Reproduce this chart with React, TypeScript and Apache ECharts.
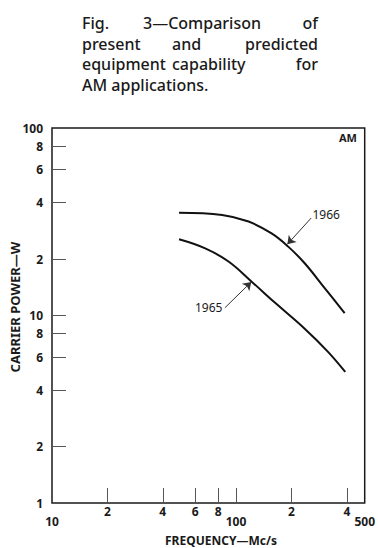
import React, { useEffect, useRef } from "react";
import * as echarts from "echarts";

// ---- data (real units: frequency in Mc/s, carrier power in W) ----
const curve1966: [number, number][] = [
  [49, 35.3], [84, 34.4], [117, 31.7], [156, 27.4], [192, 23.3], [236, 19.0], [303, 14.0], [389, 10.3],
];
const curve1965: [number, number][] = [
  [49, 25.5], [68, 22.8], [91, 19.4], [122, 15.1], [166, 11.5], [236, 8.5], [316, 6.4], [392, 5.0],
];

const xRange = [10, 500];
const yRange = [1, 100];
const xTickVals = [20, 40, 60, 80, 100, 200, 400];
const xLabelVals = [10, 20, 40, 60, 80, 100, 200, 400, 500];
const xLabelText = ["10", "2", "4", "6", "8", "100", "2", "4", "500"];
const xLoweredLabels = [10, 100, 500];
const yTickVals = [2, 4, 6, 8, 10, 20, 40, 60, 80];
const yLabelVals = [1, 2, 4, 6, 8, 10, 20, 40, 60, 80, 100];
const yLabelText = ["1", "2", "4", "6", "8", "10", "2", "4", "6", "8", "100"];

// annotation anchors (data units)
const note1966 = { text: "1966", at: [309, 34.4], from: [256, 33.1], to: [190, 24.0] };
const note1965 = { text: "1965", at: [71, 11.0], from: [87, 11.0], to: [121, 15.1] };

const titleLines = [
  ["Fig.", "3\u2014Comparison", "of"],
  ["present", "and", "predicted"],
  ["equipment", "capability", "for"],
  ["AM applications."],
];

const FONT = "'Noto Sans', 'DejaVu Sans', sans-serif";
const INK = "#1a1a1a";

function lookup(vals: number[], v: number): number {
  for (let i = 0; i < vals.length; i++) {
    if (Math.abs(Math.log10(vals[i]) - v) < 1e-6) return i;
  }
  return -1;
}

export default function App() {
  const ref = useRef<HTMLDivElement>(null);

  useEffect(() => {
    document.body.style.margin = "0";
    const chart = echarts.init(ref.current!, null, { renderer: "svg" });

    const titleGraphics: any[] = [];
    const wordX = [
      [82, 143, 318],
      [82, 172, 318],
      [82, 172, 318],
      [82],
    ];
    const lineY = [23, 44, 64, 85];
    titleLines.forEach((words, li) => {
      words.forEach((w, wi) => {
        const isLastRight = words.length === 3 && wi === 2;
        titleGraphics.push({
          type: "text",
          x: wordX[li][wi],
          y: lineY[li],
          style: {
            text: w,
            font: `500 16px ${FONT}`,
            fill: INK,
            align: isLastRight ? "right" : "left",
            verticalAlign: "middle",
          },
        });
      });
    });

    const arrowLine = (n: typeof note1966) => ({
      silent: true,
      symbol: ["none", "arrow"],
      symbolSize: 8,
      label: { show: false },
      lineStyle: { color: "#333", width: 1, type: "solid" },
      emphasis: { disabled: true },
      data: [[{ coord: n.from }, { coord: n.to }]],
    });
    const notePoint = (n: typeof note1966) => ({
      silent: true,
      symbol: "circle",
      symbolSize: 1,
      itemStyle: { color: "rgba(0,0,0,0)" },
      data: [
        {
          coord: n.at,
          label: {
            show: true,
            position: "inside",
            formatter: n.text,
            color: INK,
            fontSize: 12,
            fontFamily: FONT,
          },
        },
      ],
    });

    chart.setOption({
      animation: false,
      backgroundColor: "#ffffff",
      grid: {
        left: 52,
        right: 11,
        top: 128,
        bottom: 45,
        show: true,
        borderColor: INK,
        borderWidth: 1.5,
        backgroundColor: "transparent",
      },
      xAxis: [
        {
          type: "log",
          logBase: 10,
          min: xRange[0],
          max: xRange[1],
          axisLine: { show: false },
          axisTick: { show: false },
          axisLabel: { show: false },
          splitLine: { show: false },
        },
        {
          type: "value",
          position: "bottom",
          min: Math.log10(xRange[0]),
          max: Math.log10(xRange[1]),
          axisLine: { show: false },
          splitLine: { show: false },
          axisTick: {
            show: true,
            inside: true,
            length: 15,
            lineStyle: { color: "#555", width: 1 },
            customValues: xTickVals.map((v) => Math.log10(v)),
          },
          axisLabel: {
            show: true,
            margin: 2,
            customValues: xLabelVals.map((v) => Math.log10(v)),
            color: INK,
            fontSize: 12,
            fontWeight: "bold",
            fontFamily: FONT,
            formatter: (v: number) => {
              const i = lookup(xLabelVals, v);
              if (i < 0) return "";
              return xLoweredLabels.includes(xLabelVals[i])
                ? `{lo|${xLabelText[i]}}`
                : xLabelText[i];
            },
            rich: {
              lo: {
                padding: [10, 0, 0, 0],
                fontSize: 12,
                fontWeight: "bold",
                fontFamily: FONT,
                color: INK,
              },
            },
          },
        },
      ],
      yAxis: [
        {
          type: "log",
          logBase: 10,
          min: yRange[0],
          max: yRange[1],
          axisLine: { show: false },
          axisTick: { show: false },
          axisLabel: { show: false },
          splitLine: { show: false },
        },
        {
          type: "value",
          position: "left",
          min: Math.log10(yRange[0]),
          max: Math.log10(yRange[1]),
          axisLine: { show: false },
          splitLine: { show: false },
          axisTick: {
            show: true,
            inside: true,
            length: 14,
            lineStyle: { color: "#555", width: 1 },
            customValues: yTickVals.map((v) => Math.log10(v)),
          },
          axisLabel: {
            show: true,
            margin: 9,
            customValues: yLabelVals.map((v) => Math.log10(v)),
            color: INK,
            fontSize: 12,
            fontWeight: "bold",
            fontFamily: FONT,
            formatter: (v: number) => {
              const i = lookup(yLabelVals, v);
              return i < 0 ? "" : yLabelText[i];
            },
          },
        },
      ],
      series: [
        {
          name: "1966",
          type: "line",
          xAxisIndex: 0,
          yAxisIndex: 0,
          data: curve1966,
          smooth: 0.4,
          showSymbol: false,
          symbol: "none",
          lineStyle: { color: "#111", width: 2 },
          silent: true,
          markLine: arrowLine(note1966),
          markPoint: notePoint(note1966),
        },
        {
          name: "1965",
          type: "line",
          xAxisIndex: 0,
          yAxisIndex: 0,
          data: curve1965,
          smooth: 0.4,
          showSymbol: false,
          symbol: "none",
          lineStyle: { color: "#111", width: 2 },
          silent: true,
          markLine: arrowLine(note1965),
          markPoint: notePoint(note1965),
        },
      ],
      graphic: [
        ...titleGraphics,
        {
          type: "text",
          x: 348,
          y: 137,
          style: {
            text: "AM",
            font: `bold 11px ${FONT}`,
            fill: INK,
            align: "center",
            verticalAlign: "middle",
          },
        },
        {
          type: "text",
          x: 221,
          y: 540,
          style: {
            text: "FREQUENCY\u2014Mc/s",
            font: `bold 12px ${FONT}`,
            fill: INK,
            align: "center",
            verticalAlign: "middle",
          },
        },
        {
          type: "text",
          x: 15,
          y: 307,
          rotation: Math.PI / 2,
          style: {
            text: "CARRIER POWER\u2014W",
            font: `bold 13px ${FONT}`,
            fill: INK,
            align: "center",
            verticalAlign: "middle",
          },
        },
      ],
    });

    return () => {
      chart.dispose();
    };
  }, []);

  return (
    <div
      ref={ref}
      style={{ position: "absolute", left: 0, top: 0, width: 378, height: 548, background: "#fff" }}
    />
  );
}
